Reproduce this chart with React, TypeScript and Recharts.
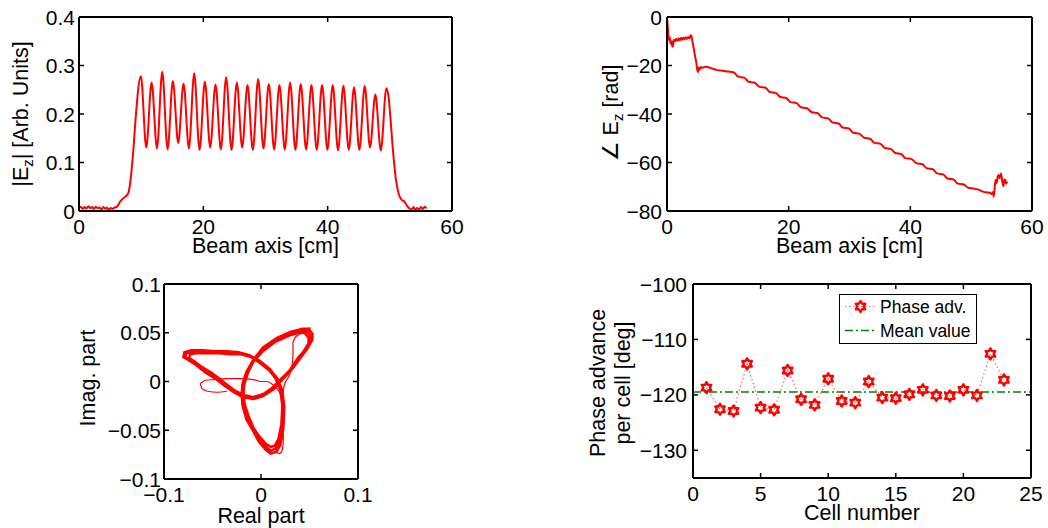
import React from 'react';
import { LineChart, Line, XAxis, YAxis, ReferenceLine } from 'recharts';

const FONT = '"Liberation Sans", Arial, Helvetica, sans-serif';
const RED = '#ff0000';
const GREEN = '#008000';
const W = 1048;
const H = 528;

// top left: |Ez| along the beam axis
const ezPos = [
  0, 0.3, 0.6, 0.9, 1.2, 1.5, 1.8, 2.1, 2.4, 2.7,
  3.0, 3.3, 3.6, 3.9, 4.2, 4.5, 4.8, 5.1, 5.4, 5.7,
  6.0, 6.3, 6.6, 7.2, 7.9, 8.2, 8.5, 8.8, 9.0, 9.3,
  9.5,
  9.96, 10.82, 11.68, 12.54, 13.39, 14.25, 15.1, 15.96, 16.82, 17.68,
  18.53, 19.39, 20.25, 21.1, 21.96, 22.82, 23.67, 24.53, 25.39, 26.25,
  27.1, 27.96, 28.82, 29.67, 30.53, 31.39, 32.24, 33.1, 33.96, 34.81,
  35.67, 36.53, 37.39, 38.24, 39.1, 39.96, 40.81, 41.67, 42.53, 43.39,
  44.24, 45.1, 45.96, 46.81, 47.67, 48.55, 49.44,
  49.8, 50.2, 50.5, 50.8, 51.0, 51.3, 51.6, 52.0, 52.4, 52.8,
  53.2, 53.5, 53.8, 54.1, 54.4, 54.7, 55.0, 55.3, 55.6, 55.9,
];
const ezMag = [
  0.006, 0.009, 0.004, 0.008, 0.005, 0.01, 0.006, 0.008, 0.004, 0.009,
  0.006, 0.007, 0.003, 0.008, 0.005, 0.007, 0.002, 0.006, 0.004, 0.007,
  0.008, 0.012, 0.019, 0.027, 0.036, 0.055, 0.09, 0.135, 0.173, 0.22,
  0.249,
  0.278, 0.131, 0.265, 0.129, 0.287, 0.127, 0.268, 0.14, 0.263, 0.129,
  0.284, 0.126, 0.267, 0.131, 0.261, 0.127, 0.276, 0.126, 0.265, 0.131,
  0.26, 0.126, 0.272, 0.129, 0.262, 0.127, 0.26, 0.127, 0.265, 0.126,
  0.262, 0.127, 0.26, 0.126, 0.26, 0.126, 0.26, 0.125, 0.258, 0.126,
  0.255, 0.126, 0.258, 0.131, 0.24, 0.125, 0.253,
  0.235, 0.175, 0.125, 0.085, 0.063, 0.042, 0.029, 0.022, 0.019, 0.01,
  0.005, 0.003, 0.008, 0.002, 0.006, 0.003, 0.008, 0.004, 0.009, 0.005,
];

// top right: phase of Ez
const phasePos = [
  0, 0.1, 0.2, 0.3, 0.45, 0.6, 0.75, 0.9, 1.0, 1.1,
  1.3, 1.5, 1.7, 1.9, 2.1, 2.3, 2.5, 2.7, 2.9, 3.1,
  3.3, 3.5, 3.7, 3.9, 4.0, 4.2, 4.4, 4.6, 4.8, 4.95,
  5.1, 5.25, 5.4, 5.6, 5.9, 6.3, 6.75, 7.4, 8.1, 8.8,
  9.5,
  10.0, 11.0, 11.7, 12.7, 13.4, 14.4, 15.2, 16.2, 16.9, 17.9,
  18.6, 19.6, 20.3, 21.3, 22.0, 23.0, 23.8, 24.8, 25.5, 26.5,
  27.2, 28.2, 28.9, 29.9, 30.6, 31.6, 32.4, 33.4, 34.1, 35.1,
  35.8, 36.8, 37.5, 38.5, 39.2, 40.2, 41.0, 42.0, 42.7, 43.7,
  44.4, 45.4, 46.1, 47.1, 47.8, 48.8,
  49.5, 50.4, 51.2, 52.0, 52.6, 53.1, 53.4, 53.6, 53.7, 53.85,
  54.0, 54.2, 54.35, 54.5, 54.7, 54.9, 55.1, 55.3, 55.45, 55.6,
  55.75, 55.9,
];
const phaseVal = [
  -0.5, -3, -7, -9.5, -8.5, -11, -10, -12.3, -11.5, -9.5,
  -10, -9, -9.8, -8.8, -9.6, -8.6, -9.4, -8.5, -9.2, -8.4,
  -9.0, -8.2, -8.8, -7.5, -7.8, -10.5, -13, -16, -18.5, -21.5,
  -22.8, -20.8, -21.6, -20.6, -20.9, -20.5, -20.7, -21.2, -21.8, -22.1,
  -22.3,
  -22.5, -22.9, -24.6, -25.0, -26.7, -27.1, -28.8, -29.2, -30.9, -31.3,
  -33.0, -33.4, -35.1, -35.5, -37.2, -37.6, -39.3, -39.7, -41.4, -41.8,
  -43.5, -43.9, -45.6, -46.0, -47.7, -48.1, -49.8, -50.2, -51.9, -52.3,
  -54.0, -54.4, -56.1, -56.5, -58.2, -58.6, -60.3, -60.7, -62.4, -62.8,
  -64.5, -64.9, -66.6, -67.0, -68.7, -69.1,
  -70.4, -70.7, -71.2, -72.1, -72.3, -72.5, -73.0, -72.2, -74.1, -71.0,
  -67.2, -68.5, -66.0, -65.2, -66.5, -64.5, -67.5, -69.7, -67.0, -67.2,
  -68.8, -67.9,
];

// bottom left: complex plane trajectory (real, imag)
const loop1: [number, number][] = [
  [0.047, 0.052], [0.051, 0.047], [0.051, 0.041], [0.046, 0.033], [0.04, 0.025], [0.031, 0.013],
  [0.022, 0.003], [0.012, -0.007], [0.002, -0.014], [-0.008, -0.017], [-0.018, -0.015], [-0.027, -0.01],
  [-0.036, -0.004], [-0.045, 0.003], [-0.054, 0.009], [-0.064, 0.016], [-0.073, 0.022], [-0.078, 0.025],
  [-0.077, 0.029], [-0.07, 0.031], [-0.058, 0.031], [-0.045, 0.03], [-0.033, 0.03], [-0.022, 0.029],
  [-0.011, 0.026], [-0.001, 0.02], [0.009, 0.012], [0.016, 0.003], [0.021, -0.009], [0.023, -0.026],
  [0.022, -0.046], [0.019, -0.062], [0.015, -0.069], [0.01, -0.071], [0.005, -0.067], [-0.002, -0.059],
  [-0.008, -0.049], [-0.014, -0.037], [-0.018, -0.024], [-0.019, -0.012], [-0.018, -0.002], [-0.014, 0.01],
  [-0.008, 0.021], [0.002, 0.033], [0.016, 0.043], [0.03, 0.049], [0.041, 0.052], [0.047, 0.052],
];
const loop2: [number, number][] = [
  [0.049, 0.054], [0.053, 0.049], [0.053, 0.043], [0.048, 0.034], [0.042, 0.026], [0.033, 0.014],
  [0.023, 0.003], [0.013, -0.008], [0.002, -0.015], [-0.008, -0.018], [-0.019, -0.016], [-0.028, -0.011],
  [-0.038, -0.004], [-0.047, 0.003], [-0.057, 0.009], [-0.067, 0.017], [-0.075, 0.022], [-0.08, 0.025],
  [-0.079, 0.03], [-0.072, 0.032], [-0.06, 0.032], [-0.047, 0.031], [-0.035, 0.031], [-0.023, 0.03],
  [-0.012, 0.027], [-0.001, 0.021], [0.009, 0.013], [0.017, 0.003], [0.022, -0.009], [0.024, -0.027],
  [0.023, -0.048], [0.02, -0.065], [0.016, -0.072], [0.01, -0.074], [0.005, -0.07], [-0.002, -0.062],
  [-0.008, -0.051], [-0.015, -0.039], [-0.019, -0.025], [-0.02, -0.013], [-0.019, -0.002], [-0.015, 0.01],
  [-0.008, 0.022], [0.002, 0.035], [0.017, 0.045], [0.031, 0.051], [0.043, 0.054], [0.049, 0.054],
];
const loop3: [number, number][] = [
  [0.045, 0.05], [0.049, 0.045], [0.049, 0.039], [0.044, 0.031], [0.038, 0.024], [0.03, 0.012],
  [0.021, 0.003], [0.011, -0.007], [0.002, -0.013], [-0.008, -0.016], [-0.017, -0.014], [-0.026, -0.01],
  [-0.034, -0.004], [-0.043, 0.003], [-0.051, 0.009], [-0.061, 0.015], [-0.069, 0.021], [-0.074, 0.024],
  [-0.073, 0.028], [-0.067, 0.029], [-0.055, 0.029], [-0.043, 0.029], [-0.031, 0.028], [-0.021, 0.028],
  [-0.01, 0.025], [-0.001, 0.019], [0.009, 0.011], [0.015, 0.003], [0.02, -0.009], [0.022, -0.025],
  [0.021, -0.044], [0.018, -0.059], [0.014, -0.066], [0.01, -0.067], [0.005, -0.064], [-0.002, -0.056],
  [-0.008, -0.047], [-0.013, -0.035], [-0.017, -0.023], [-0.018, -0.011], [-0.017, -0.002], [-0.013, 0.01],
  [-0.008, 0.02], [0.002, 0.031], [0.015, 0.041], [0.029, 0.047], [0.039, 0.05], [0.045, 0.05],
];
const strayCentre: [number, number][] = [
  [-0.035, -0.01], [-0.045, -0.011], [-0.055, -0.01], [-0.061, -0.007], [-0.063, -0.002], [-0.058, 0.001],
  [-0.048, 0.002], [-0.035, 0.003], [-0.02, 0.003], [-0.008, 0.002], [0.0, 0.0], [0.006, 0.0],
  [0.012, -0.003], [0.017, -0.008], [0.021, -0.016], [0.023, -0.03], [0.023, -0.046], [0.023, -0.06],
  [0.022, -0.07], [0.019, -0.074], [0.015, -0.072],
];
const strayLobe: [number, number][] = [
  [0.045, 0.05], [0.037, 0.047], [0.033, 0.04], [0.033, 0.028], [0.032, 0.016], [0.029, 0.006],
  [0.024, -0.004], [0.022, -0.015],
];

// bottom right: phase advance per cell
const cells = [1, 2, 3, 4, 5, 6, 7, 8, 9, 10, 11, 12, 13, 14, 15, 16, 17, 18, 19, 20, 21, 22, 23];
const phaseAdv = [
  -118.7, -122.6, -122.9, -114.4, -122.3, -122.7, -115.6, -120.8, -121.8, -117.1, -121.1, -121.4,
  -117.6, -120.5, -120.6, -119.9, -119.1, -120.1, -120.2, -119.1, -120.1, -112.6, -117.3,
];
const meanPhase = -119.5;
const legendLabels = ['Phase adv.', 'Mean value'];

const ezData = ezPos.map((x, i) => ({ x, y: ezMag[i] }));
const phaseData = phasePos.map((x, i) => ({ x, y: phaseVal[i] }));
const loopData = [...loop1, ...loop2, ...loop3].map(([x, y]) => ({ x, y }));
const strayData1 = strayCentre.map(([x, y]) => ({ x, y }));
const strayData2 = strayLobe.map(([x, y]) => ({ x, y }));
const advData = cells.map((x, i) => ({ x, y: phaseAdv[i] }));

const AXIS = { stroke: '#000', strokeWidth: 2 };
const txt = { fontFamily: FONT, fontSize: 21, fill: '#000' };
const fmt = (v: number) => (v < 0 ? '\u2212' + String(-v) : String(v));

type Side = 'bottom' | 'top' | 'left' | 'right';

// MATLAB style: ticks point inwards, labels only bottom/left
function makeTick(side: Side, gap: number) {
  return (p: any) => {
    const { x, y, payload } = p;
    const lbl = fmt(payload.value);
    if (side === 'bottom')
      return (
        <g>
          <line x1={x} y1={y} x2={x} y2={y - 5} stroke="#000" strokeWidth={1.5} />
          <text x={x} y={y + 23} textAnchor="middle" {...txt}>{lbl}</text>
        </g>
      );
    if (side === 'top') return <line x1={x} y1={y} x2={x} y2={y + 5} stroke="#000" strokeWidth={1.5} />;
    if (side === 'left')
      return (
        <g>
          <line x1={x} y1={y} x2={x + 5} y2={y} stroke="#000" strokeWidth={1.5} />
          <text x={x - gap} y={y + 7.5} textAnchor="end" {...txt}>{lbl}</text>
        </g>
      );
    return <line x1={x} y1={y} x2={x - 5} y2={y} stroke="#000" strokeWidth={1.5} />;
  };
}

type Box = { left: number; right: number; top: number; bottom: number };
const marginFor = (b: Box) => ({ left: b.left - 40, right: W - b.right - 1, top: b.top - 1, bottom: H - b.bottom - 30 });

function frame(xDomain: [number, number], xTicks: number[], yDomain: [number, number], yTicks: number[], gap: number) {
  const common = { type: 'number' as const, interval: 0, allowDataOverflow: true, tickSize: 0, tickMargin: 0, tickLine: false, axisLine: AXIS };
  return [
    <XAxis key="xb" xAxisId="b" dataKey="x" domain={xDomain} ticks={xTicks} height={30} tick={makeTick('bottom', gap)} {...common} />,
    <XAxis key="xt" xAxisId="t" orientation="top" dataKey="x" domain={xDomain} ticks={xTicks} height={1} tick={makeTick('top', gap)} {...common} />,
    <YAxis key="yl" yAxisId="l" domain={yDomain} ticks={yTicks} width={40} tick={makeTick('left', gap)} {...common} />,
    <YAxis key="yr" yAxisId="r" orientation="right" domain={yDomain} ticks={yTicks} width={1} tick={makeTick('right', gap)} {...common} />,
  ];
}

const HexStar = (p: any) => {
  const { cx, cy } = p;
  if (cx == null || cy == null) return null;
  const R = 5.5;
  const r = R / Math.sqrt(3);
  const pts: string[] = [];
  for (let k = 0; k < 12; k++) {
    const a = ((-90 + k * 30) * Math.PI) / 180;
    const rad = k % 2 === 0 ? R : r;
    pts.push(`${cx + rad * Math.cos(a)},${cy + rad * Math.sin(a)}`);
  }
  return <polygon key={`s${cx}`} points={pts.join(' ')} fill="none" stroke={RED} strokeWidth={2.4} strokeLinejoin="round" />;
};

const abs: React.CSSProperties = { position: 'absolute', left: 0, top: 0 };
const titleStyle = { fontFamily: FONT, fontSize: 21.5, fill: '#000' };

export default function App() {
  return (
    <div style={{ position: 'fixed', left: 0, top: 0, width: W, height: H, background: '#fff', overflow: 'hidden' }}>
      <div style={abs}>
        <LineChart width={W} height={H} margin={marginFor({ left: 79, right: 452, top: 17, bottom: 211 })}>
          {frame([0, 60], [0, 20, 40, 60], [0, 0.4], [0, 0.1, 0.2, 0.3, 0.4], 4)}
          <Line xAxisId="b" yAxisId="l" data={ezData} dataKey="y" type="monotone" stroke={RED} strokeWidth={2} dot={false} isAnimationActive={false} />
        </LineChart>
      </div>
      <div style={abs}>
        <LineChart width={W} height={H} margin={marginFor({ left: 667, right: 1032, top: 17, bottom: 211 })}>
          {frame([0, 60], [0, 20, 40, 60], [-80, 0], [-80, -60, -40, -20, 0], 5)}
          <Line xAxisId="b" yAxisId="l" data={phaseData} dataKey="y" type="monotone" stroke={RED} strokeWidth={2} dot={false} isAnimationActive={false} />
        </LineChart>
      </div>
      <div style={abs}>
        <LineChart width={W} height={H} margin={marginFor({ left: 164, right: 358, top: 284, bottom: 479 })}>
          {frame([-0.1, 0.1], [-0.1, 0, 0.1], [-0.1, 0.1], [-0.1, -0.05, 0, 0.05, 0.1], 3)}
          <Line xAxisId="b" yAxisId="l" data={loopData} dataKey="y" type="linear" stroke={RED} strokeWidth={2.5} dot={false} isAnimationActive={false} />
          <Line xAxisId="b" yAxisId="l" data={strayData1} dataKey="y" type="monotone" stroke={RED} strokeWidth={1.2} dot={false} isAnimationActive={false} />
          <Line xAxisId="b" yAxisId="l" data={strayData2} dataKey="y" type="monotone" stroke={RED} strokeWidth={1.2} dot={false} isAnimationActive={false} />
        </LineChart>
      </div>
      <div style={abs}>
        <LineChart width={W} height={H} margin={marginFor({ left: 693, right: 1031, top: 284, bottom: 478 })}>
          {frame([0, 25], [0, 5, 10, 15, 20, 25], [-135, -100], [-130, -120, -110, -100], 6)}
          <ReferenceLine xAxisId="b" yAxisId="l" y={meanPhase} stroke={GREEN} strokeWidth={1.5} strokeDasharray="8 3 2 3" />
          <Line xAxisId="b" yAxisId="l" data={advData} dataKey="y" type="linear" stroke={RED} strokeOpacity={0.6} strokeWidth={1.2} strokeDasharray="1.5 2.5" dot={HexStar} isAnimationActive={false} />
        </LineChart>
      </div>

      <svg style={{ ...abs, pointerEvents: 'none' }} width={W} height={H}>
        <text transform="translate(28,114) rotate(-90)" textAnchor="middle" {...titleStyle}>
          |E<tspan fontSize={15} dy={5}>z</tspan>
          <tspan dy={-5}>| [Arb. Units]</tspan>
        </text>
        <text x={265.5} y={253} textAnchor="middle" {...titleStyle}>Beam axis [cm]</text>

        <text transform="translate(618,113) rotate(-90)" textAnchor="middle" {...titleStyle}>
          {'\u2220 E'}
          <tspan fontSize={15} dy={5}>z</tspan>
          <tspan dy={-5}> [rad]</tspan>
        </text>
        <text x={849.5} y={253} textAnchor="middle" {...titleStyle}>Beam axis [cm]</text>

        <text transform="translate(95,378) rotate(-90)" textAnchor="middle" {...titleStyle}>Imag. part</text>
        <text x={261} y={523} textAnchor="middle" {...titleStyle}>Real part</text>

        <text transform="translate(605,383) rotate(-90)" textAnchor="middle" {...titleStyle}>Phase advance</text>
        <text transform="translate(630,383) rotate(-90)" textAnchor="middle" {...titleStyle}>per cell [deg]</text>
        <text x={862} y={520} textAnchor="middle" {...titleStyle}>Cell number</text>
      </svg>

      <svg style={{ position: 'absolute', left: 839, top: 294, pointerEvents: 'none' }} width={138} height={50}>
        <rect x={0.5} y={0.5} width={137} height={49} fill="#fff" stroke="#000" strokeWidth={1} />
        <line x1={6} y1={12.5} x2={37} y2={12.5} stroke={RED} strokeOpacity={0.6} strokeWidth={1.2} strokeDasharray="1.5 2.5" />
        <HexStar cx={21.5} cy={12.5} />
        <text x={41} y={18.5} fontFamily={FONT} fontSize={17.5} fill="#000">{legendLabels[0]}</text>
        <line x1={6} y1={36.5} x2={37} y2={36.5} stroke={GREEN} strokeWidth={1.5} strokeDasharray="8 3 2 3" />
        <text x={41} y={43} fontFamily={FONT} fontSize={17.5} fill="#000">{legendLabels[1]}</text>
      </svg>
    </div>
  );
}
